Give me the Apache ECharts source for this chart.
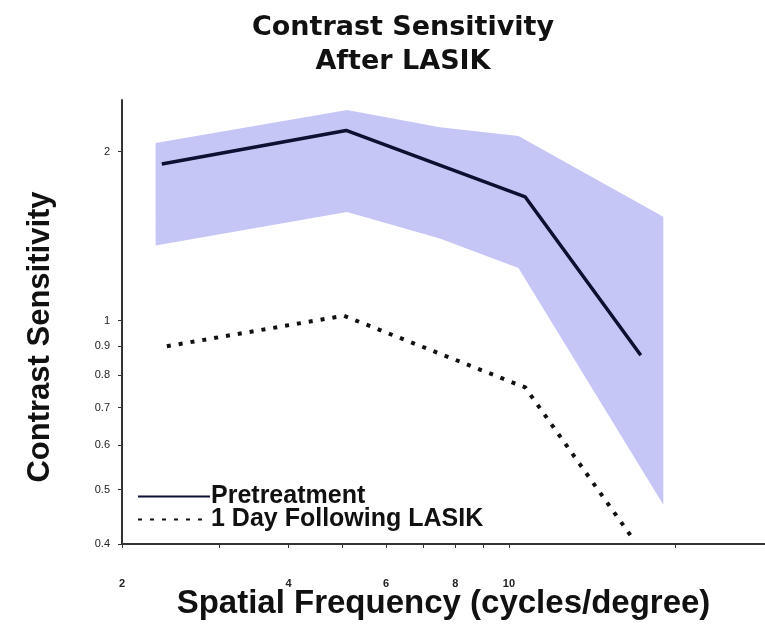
<!doctype html>
<html lang="en">
<head>
  <meta charset="UTF-8">
  <title>Contrast Sensitivity After LASIK</title>
  <script src="https://cdn.jsdelivr.net/npm/echarts@6/dist/echarts.min.js"></script>
  <style>
    html, body { margin: 0; padding: 0; background: #fff; }
    #chart { width: 765px; height: 624px; }
  </style>
</head>
<body>
<div id="chart"></div>
<script>
  // spatial frequency (cycles/degree) and contrast sensitivity
  var pretreatFreq = [2.36, 5.08, 10.7, 17.3];
  var pretreatCS = [1.90, 2.18, 1.66, 0.867];

  var dayOneFreq = [2.41, 5.03, 10.7, 16.7];
  var dayOneCS = [0.90, 1.02, 0.76, 0.41];

  // normal range band
  var bandFreq = [2.3, 5.1, 7.5, 10.4, 19.0];
  var bandUpper = [2.07, 2.37, 2.21, 2.13, 1.53];
  var bandLower = [1.36, 1.56, 1.40, 1.24, 0.47];

  var xTicks = [2, 3, 4, 5, 6, 7, 8, 9, 10, 20];
  var xLabels = [2, 4, 6, 8, 10];
  var yTicks = [0.4, 0.5, 0.6, 0.7, 0.8, 0.9, 1, 2];

  function pairs(xs, ys) {
    return xs.map(function (x, i) { return [x, ys[i]]; });
  }

  var chart = echarts.init(document.getElementById('chart'));
  var option = {
    animation: false,
    title: {
      text: 'Contrast Sensitivity\nAfter LASIK',
      left: 398,
      top: 6,
      textAlign: 'center',
      textStyle: {
        fontFamily: 'DejaVu Sans',
        fontWeight: 'bold',
        fontSize: 27,
        lineHeight: 34,
        color: '#111'
      }
    },
    legend: {
      orient: 'vertical',
      left: 132,
      top: 479,
      itemWidth: 72,
      itemHeight: 12,
      itemGap: -2,
      data: ['Pretreatment', '1 Day Following LASIK'],
      itemStyle: { opacity: 0 },
      textStyle: {
        fontFamily: 'Liberation Sans',
        fontWeight: 'bold',
        fontSize: 25,
        lineHeight: 23,
        color: '#111',
        padding: [0, 0, 0, -4]
      }
    },
    grid: { left: 122, right: 0, top: 100, bottom: 80, outerBoundsMode: 'none' },
    xAxis: {
      type: 'log',
      min: 2,
      max: 29,
      name: 'Spatial Frequency (cycles/degree)',
      nameLocation: 'middle',
      nameGap: 42,
      nameMoveOverlap: false,
      nameTextStyle: {
        fontFamily: 'Liberation Sans',
        fontWeight: 'bold',
        fontSize: 33,
        lineHeight: 36,
        color: '#111'
      },
      axisLine: { lineStyle: { color: '#333', width: 2 } },
      axisTick: { customValues: xTicks, length: 4, inside: false, lineStyle: { color: '#333' } },
      axisLabel: {
        customValues: xLabels,
        margin: 34,
        fontFamily: 'Liberation Sans',
        fontWeight: 'bold',
        fontSize: 11,
        color: '#222'
      },
      splitLine: { show: false },
      minorTick: { show: false }
    },
    yAxis: {
      type: 'log',
      min: 0.4,
      max: 2.47,
      name: 'Contrast Sensitivity',
      nameLocation: 'middle',
      nameGap: 66,
      nameRotate: 90,
      nameMoveOverlap: false,
      nameTextStyle: {
        fontFamily: 'Liberation Sans',
        fontWeight: 'bold',
        fontSize: 31,
        color: '#111',
        padding: [0, 30, 0, 0]
      },
      axisLine: { show: true, lineStyle: { color: '#333', width: 2 } },
      axisTick: { show: true, customValues: yTicks, length: 4, lineStyle: { color: '#333' } },
      axisLabel: {
        customValues: yTicks,
        margin: 12,
        fontFamily: 'Liberation Sans',
        fontSize: 11,
        color: '#222'
      },
      splitLine: { show: false }
    },
    series: [
      {
        name: 'band',
        type: 'custom',
        silent: true,
        z: 1,
        data: [[bandFreq[0], bandUpper[0]]],
        renderItem: function (params, api) {
          var pts = [];
          for (var i = 0; i < bandFreq.length; i++) {
            pts.push(api.coord([bandFreq[i], bandUpper[i]]));
          }
          for (var j = bandFreq.length - 1; j >= 0; j--) {
            pts.push(api.coord([bandFreq[j], bandLower[j]]));
          }
          return {
            type: 'polygon',
            shape: { points: pts, smooth: 0 },
            style: { fill: '#c6c6f6' }
          };
        }
      },
      {
        name: 'Pretreatment',
        type: 'line',
        z: 3,
        symbol: 'none',
        data: pairs(pretreatFreq, pretreatCS),
        lineStyle: { color: '#0d1030', width: 3.5 },
        itemStyle: { color: '#0d1030' }
      },
      {
        name: '1 Day Following LASIK',
        type: 'line',
        z: 3,
        symbol: 'none',
        data: pairs(dayOneFreq, dayOneCS),
        lineStyle: { color: '#111', width: 4, type: [4, 8] },
        itemStyle: { color: '#111' }
      }
    ]
  };
  chart.setOption(option);
</script>
</body>
</html>
